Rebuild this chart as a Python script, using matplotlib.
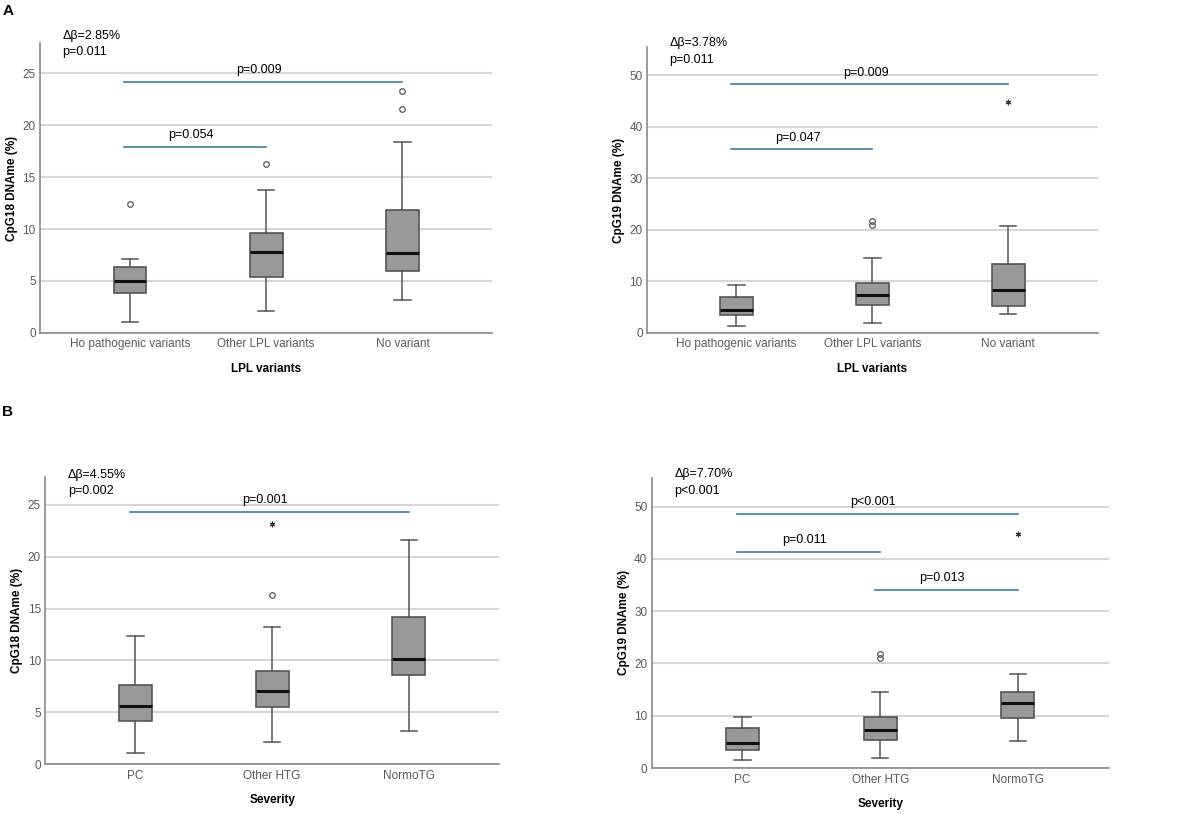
import matplotlib
matplotlib.use("Agg")
import matplotlib.pyplot as plt

plt.rcParams['font.family'] = ['Liberation Sans', 'DejaVu Sans']

# ---- data ----
cats_lpl = ["Ho pathogenic variants", "Other LPL variants", "No variant"]
cats_sev = ["PC", "Other HTG", "NormoTG"]

# panel A, CpG18
a18_whislo = [1.1, 2.1, 3.2]
a18_q1 = [3.8, 5.4, 6.0]
a18_med = [5.0, 7.8, 7.7]
a18_q3 = [6.3, 9.6, 11.8]
a18_whishi = [7.1, 13.8, 18.4]
a18_out = [[12.4], [16.3], [21.6, 23.3]]
a18_ext = [[], [], []]

# panel A, CpG19
a19_whislo = [1.4, 1.9, 3.7]
a19_q1 = [3.4, 5.4, 5.2]
a19_med = [4.4, 7.4, 8.3]
a19_q3 = [6.9, 9.6, 13.3]
a19_whishi = [9.2, 14.6, 20.7]
a19_out = [[], [21.0, 21.7], []]
a19_ext = [[], [], [44.8]]

# panel B, CpG18
b18_whislo = [1.1, 2.1, 3.2]
b18_q1 = [4.2, 5.5, 8.6]
b18_med = [5.6, 7.0, 10.1]
b18_q3 = [7.6, 9.0, 14.2]
b18_whishi = [12.4, 13.2, 21.6]
b18_out = [[], [16.3], []]
b18_ext = [[], [23.2], []]

# panel B, CpG19
b19_whislo = [1.5, 2.0, 5.2]
b19_q1 = [3.5, 5.4, 9.6]
b19_med = [4.8, 7.3, 12.4]
b19_q3 = [7.6, 9.8, 14.6]
b19_whishi = [9.7, 14.6, 17.9]
b19_out = [[], [21.0, 21.9], []]
b19_ext = [[], [], [44.8]]

# comparison brackets: (from group, to group, height, label)
a18_brackets = [(1, 3, 24.2, "p=0.009"), (1, 2, 17.9, "p=0.054")]
a19_brackets = [(1, 3, 48.2, "p=0.009"), (1, 2, 35.6, "p=0.047")]
b18_brackets = [(1, 3, 24.3, "p=0.001")]
b19_brackets = [(1, 3, 48.6, "p<0.001"), (1, 2, 41.3, "p=0.011"), (2, 3, 34.1, "p=0.013")]

a18_note = ["\u0394\u03b2=2.85%", "p=0.011"]
a19_note = ["\u0394\u03b2=3.78%", "p=0.011"]
b18_note = ["\u0394\u03b2=4.55%", "p=0.002"]
b19_note = ["\u0394\u03b2=7.70%", "p<0.001"]

BOXFILL = "#9a9898"
EDGE = "#555555"
LINE = "#3d7c99"


def panel(ax, cats, whislo, q1, med, q3, whishi, out, ext, brackets, note,
          note_y, ymax, ystep, ylabel, xlabel):
	stats = []
	for i in range(len(cats)):
		stats.append(dict(whislo=whislo[i], q1=q1[i], med=med[i], q3=q3[i],
			whishi=whishi[i], fliers=out[i]))
	ax.bxp(stats, positions=[1, 2, 3], widths=0.24, patch_artist=True,
		boxprops=dict(facecolor=BOXFILL, edgecolor=EDGE, lw=1.2),
		medianprops=dict(color="#111111", lw=2.2),
		whiskerprops=dict(color=EDGE, lw=1.1),
		capprops=dict(color=EDGE, lw=1.1), capwidths=0.12,
		flierprops=dict(marker="o", markersize=4, markerfacecolor="none",
			markeredgecolor="#555555", markeredgewidth=0.9))
	for i, vals in enumerate(ext):
		if vals:
			ax.plot([i + 1] * len(vals), vals, ls="none", marker=(6, 2, 0),
				markersize=4, color="#333333", mew=0.8)

	for a, b, h, lab in brackets:
		ax.plot([a - 0.04, b], [h, h], color=LINE, lw=1.2)
		ax.text((a + b) / 2 - 0.05, h + ymax * 0.02, lab, ha="center",
			va="bottom", fontsize=9)

	ax.text(0.05, note_y[0], note[0], transform=ax.transAxes, fontsize=9,
		va="center", ha="left")
	ax.text(0.05, note_y[1], note[1], transform=ax.transAxes, fontsize=9,
		va="center", ha="left")

	ax.set_xlim(0.34, 3.66)
	ax.set_ylim(0, ymax)
	ax.set_yticks(range(0, int(ymax) + 1, ystep))
	ax.set_xticks([1, 2, 3])
	ax.set_xticklabels(cats)
	ax.yaxis.grid(True, color="#d6d6d6", lw=1.5)
	ax.set_axisbelow(True)
	for s in ["top", "right"]:
		ax.spines[s].set_visible(False)
	for s in ["left", "bottom"]:
		ax.spines[s].set_color("#8a8a8a")
		ax.spines[s].set_linewidth(1.2)
	ax.tick_params(length=0, labelcolor="#5a5a5a", labelsize=8.5)
	ax.tick_params(axis="y", pad=3)
	ax.tick_params(axis="x", pad=4)
	ax.set_ylabel(ylabel, fontsize=8.5, fontweight="bold", labelpad=3)
	ax.set_xlabel(xlabel, fontsize=8.5, fontweight="bold", labelpad=9)


fig = plt.figure(figsize=(12, 8.14), dpi=100)

ax1 = fig.add_axes([0.0333, 0.591, 0.377, 0.356])
panel(ax1, cats_lpl, a18_whislo, a18_q1, a18_med, a18_q3, a18_whishi,
	a18_out, a18_ext, a18_brackets, a18_note, (1.024, 0.969), 27.9, 5,
	"CpG18 DNAme (%)", "LPL variants")

ax2 = fig.add_axes([0.539, 0.591, 0.376, 0.351])
panel(ax2, cats_lpl, a19_whislo, a19_q1, a19_med, a19_q3, a19_whishi,
	a19_out, a19_ext, a19_brackets, a19_note, (1.014, 0.955), 55.4, 10,
	"CpG19 DNAme (%)", "LPL variants")

ax3 = fig.add_axes([0.0375, 0.0614, 0.3785, 0.3526])
panel(ax3, cats_sev, b18_whislo, b18_q1, b18_med, b18_q3, b18_whishi,
	b18_out, b18_ext, b18_brackets, b18_note, (1.007, 0.951), 27.7, 5,
	"CpG18 DNAme (%)", "Severity")

ax4 = fig.add_axes([0.543, 0.0565, 0.381, 0.3565])
panel(ax4, cats_sev, b19_whislo, b19_q1, b19_med, b19_q3, b19_whishi,
	b19_out, b19_ext, b19_brackets, b19_note, (1.014, 0.955), 55.5, 10,
	"CpG19 DNAme (%)", "Severity")

fig.text(0.002, 0.995, "A", fontsize=11, fontweight="bold", va="top")
fig.text(0.002, 0.503, "B", fontsize=11, fontweight="bold", va="top")

fig.savefig("out.png", dpi=100)
